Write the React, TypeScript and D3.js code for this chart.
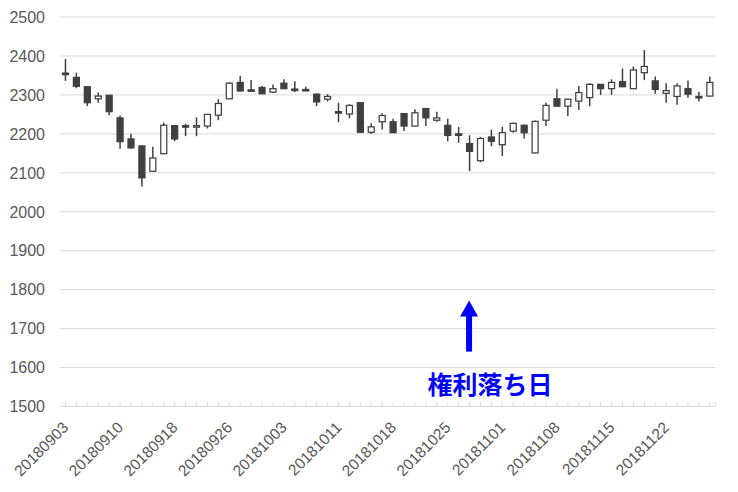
import React from "react";
import * as d3 from "d3";

const dates = [
  "20180903","20180904","20180905","20180906","20180907",
  "20180910","20180911","20180912","20180913","20180914",
  "20180918","20180919","20180920","20180921","20180925",
  "20180926","20180927","20180928","20181001","20181002",
  "20181003","20181004","20181005","20181009","20181010",
  "20181011","20181012","20181015","20181016","20181017",
  "20181018","20181019","20181022","20181023","20181024",
  "20181025","20181026","20181029","20181030","20181031",
  "20181101","20181102","20181105","20181106","20181107",
  "20181108","20181109","20181112","20181113","20181114",
  "20181115","20181116","20181119","20181120","20181121",
  "20181122","20181126","20181127","20181128","20181129",
];
const opens = [
  2356,2345,2321,2290,2299, 2241,2187,2169,2104,2149,
  2221,2221,2219,2220,2248, 2290,2332,2313,2319,2307,
  2330,2315,2314,2302,2289, 2257,2251,2280,2204,2231,
  2231,2252,2220,2265,2235, 2222,2200,2175,2131,2192,
  2172,2207,2222,2151,2235, 2290,2271,2284,2293,2327,
  2316,2334,2316,2357,2336, 2304,2296,2316,2296,2297,
];
const highs = [
  2392,2357,2322,2306,2300, 2247,2200,2170,2167,2229,
  2222,2226,2242,2250,2289, 2332,2349,2338,2323,2327,
  2340,2335,2321,2303,2302, 2280,2276,2281,2227,2253,
  2239,2253,2263,2266,2257, 2239,2218,2196,2192,2211,
  2218,2229,2224,2234,2280, 2316,2290,2323,2330,2328,
  2340,2368,2373,2415,2347, 2330,2330,2337,2308,2347,
];
const lows = [
  2336,2317,2271,2280,2248, 2162,2162,2065,2103,2148,
  2181,2194,2194,2214,2235, 2289,2309,2311,2302,2305,
  2315,2307,2311,2271,2283, 2230,2240,2203,2200,2211,
  2202,2207,2219,2220,2231, 2181,2177,2104,2127,2168,
  2143,2203,2188,2150,2220, 2270,2246,2261,2271,2300,
  2300,2320,2315,2338,2303, 2280,2275,2293,2283,2296,
];
const closes = [
  2352,2322,2280,2297,2257, 2180,2164,2087,2138,2222,
  2187,2219,2221,2250,2278, 2330,2310,2311,2303,2316,
  2316,2313,2312,2282,2296, 2255,2273,2204,2218,2247,
  2203,2220,2254,2241,2241, 2196,2198,2155,2188,2181,
  2203,2227,2203,2232,2273, 2271,2289,2306,2327,2316,
  2332,2321,2364,2373,2314, 2311,2323,2302,2294,2332,
];
const yTicks = [1500,1600,1700,1800,1900,2000,2100,2200,2300,2400,2500];
const xLabelEvery = 5;
const annotationDate = "20181029";
const annotationArrowTop = 1772;
const annotationArrowBottom = 1641;
const annotationTextValue = 1532;
const annotationText = "権利落ち日";

const W = 738, H = 492;
const left = 60, right = 715.3, top = 17, bottom = 406.5;

export default function App() {
  const x = d3.scaleBand<string>().domain(dates).range([left, right]).padding(0);
  const y = d3.scaleLinear().domain([1500, 2500]).range([bottom, top]);
  const bw = x.bandwidth();
  const cx = (d: string) => (x(d) as number) + bw / 2;
  const bodyW = 6;
  const dark = "#404040";
  const grid = "#d9d9d9";
  const font = "'Liberation Sans', Arial, sans-serif";

  const ax = cx(annotationDate) - 0.5;
  const aTop = y(annotationArrowTop);
  const aBot = y(annotationArrowBottom);
  const headH = 16;

  return (
    <div style={{ position: "fixed", left: 0, top: 0, width: W, height: H, background: "#fff" }}>
      <svg width={W} height={H} style={{ display: "block" }}>
        <rect width={W} height={H} fill="#fff" />
        {yTicks.map((t) => (
          <g key={t}>
            {t !== 1500 && (
              <line x1={left} x2={right} y1={y(t)} y2={y(t)} stroke={grid} strokeWidth={1} />
            )}
            <text x={45} y={y(t)} dy="0.36em" textAnchor="end" fontFamily={font} fontSize={16} fill="#595959">
              {t}
            </text>
          </g>
        ))}
        <line x1={left} x2={right} y1={bottom} y2={bottom} stroke={grid} strokeWidth={1} />
        {dates.map((d) => (
          <line key={"t" + d} x1={cx(d)} x2={cx(d)} y1={bottom - 4} y2={bottom} stroke={grid} strokeWidth={1} />
        ))}
        <line x1={right} x2={right} y1={bottom - 4} y2={bottom} stroke={grid} strokeWidth={1} />
        {dates.map((d, i) =>
          i % xLabelEvery === 0 ? (
            <text
              key={"l" + d}
              transform={`translate(${cx(d) + 4},${bottom + 22}) rotate(-45)`}
              textAnchor="end"
              fontFamily={font}
              fontSize={15.5}
              fill="#595959"
            >
              {d}
            </text>
          ) : null
        )}
        {dates.map((d, i) => {
          const o = opens[i], c = closes[i], h = highs[i], l = lows[i];
          const up = c >= o;
          const yTop = y(Math.max(o, c));
          const yBot = y(Math.min(o, c));
          const bh = Math.max(1.5, yBot - yTop);
          const xc = cx(d);
          return (
            <g key={"c" + d}>
              <line x1={xc} x2={xc} y1={y(h)} y2={y(l)} stroke={dark} strokeWidth={1.5} />
              <rect
                x={xc - bodyW / 2}
                y={yTop}
                width={bodyW}
                height={bh}
                fill={up ? "#ffffff" : dark}
                stroke={dark}
                strokeWidth={1.25}
              />
            </g>
          );
        })}
        <rect x={ax - 3} y={aTop + headH - 1} width={6} height={aBot - aTop - headH + 1} fill="#0000ff" />
        <path d={`M${ax},${aTop} L${ax + 9},${aTop + headH} L${ax - 9},${aTop + headH} Z`} fill="#0000ff" />
        <text
          x={ax + 21}
          y={y(annotationTextValue)}
          textAnchor="middle"
          fontFamily="'Noto Sans CJK JP', sans-serif"
          fontWeight="bold"
          fontSize={25}
          fill="#0000ff"
        >
          {annotationText}
        </text>
      </svg>
    </div>
  );
}
